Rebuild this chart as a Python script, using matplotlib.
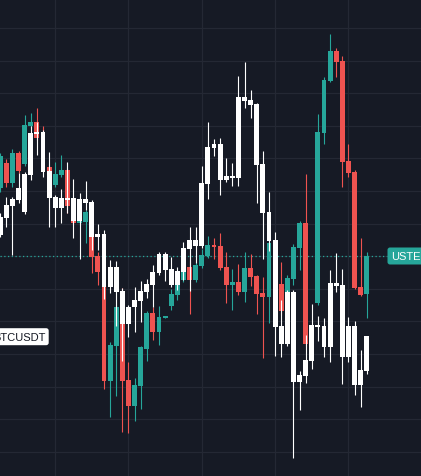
import numpy as np
import matplotlib
matplotlib.use("Agg")
import matplotlib.pyplot as plt
from matplotlib.patches import FancyBboxPatch
from matplotlib.transforms import IdentityTransform

# ---------------- data (chart units: 0 = top of price scale, values grow downward) -------------
ustec_open = [188, 163, 183, 153, 164, 126, 122, 136, 167, 185, 175, 170, 206, 223, 222, 214,
              256, 272, 381, 346, 300, 380, 406, 386, 349, 313, 332, 317, 306, 295, 280, 267,
              280, 266, 256, 245, 246, 267, 285, 282, 292, 268, 276, 293, 297, 245, 284, 292,
              279, 248, 223, 345, 303, 133, 81, 51, 61, 161, 172, 287, 294]
ustec_high = [153, 159, 149, 151, 115, 113, 108, 126, 165, 162, 155, 168, 204, 215, 210, 210,
              252, 270, 342, 305, 288, 362, 378, 346, 311, 307, 306, 316, 289, 283, 270, 260,
              262, 249, 236, 238, 233, 252, 269, 264, 252, 254, 275, 277, 240, 240, 262, 275,
              244, 221, 174, 325, 114, 77, 34, 48, 56, 144, 170, 238, 252]
ustec_low = [192, 187, 187, 173, 166, 128, 140, 170, 188, 187, 177, 213, 224, 225, 243, 273,
             285, 389, 417, 396, 432, 433, 421, 409, 361, 340, 345, 318, 310, 300, 282, 314,
             282, 268, 258, 259, 270, 303, 310, 295, 302, 286, 314, 358, 323, 290, 315, 300,
             285, 270, 346, 355, 305, 144, 82, 77, 187, 177, 289, 296, 318]
ustec_close = [156, 183, 153, 171, 125, 122, 138, 166, 185, 174, 170, 206, 223, 220, 212, 257,
               272, 381, 345, 307, 381, 406, 385, 347, 313, 332, 317, 316, 294, 285, 272, 280,
               265, 255, 245, 246, 268, 285, 282, 292, 268, 277, 294, 297, 243, 284, 311, 278,
               247, 223, 344, 326, 132, 80, 51, 62, 162, 173, 288, 295, 256]

btc_open = [235, 218, 206, 200, 212, 175, 133, 132, 171, 197, 208, 198, 198, 221, 199, 202,
            237, 234, 287, 267, 291, 324, 307, 301, 292, 285, 273, 254, 269, 285, 272, 249,
            240, 246, 184, 148, 144, 180, 176, 178, 97, 100, 104, 164, 212, 240, 326, 344,
            292, 382, 376, 361, 325, 326, 347, 283, 285, 357, 326, 385, 371]
btc_high = [213, 197, 197, 173, 172, 126, 122, 130, 152, 195, 189, 162, 179, 193, 181, 200,
            224, 230, 260, 261, 288, 305, 287, 281, 279, 265, 252, 252, 257, 267, 242, 227,
            227, 166, 122, 139, 138, 158, 163, 76, 62, 90, 103, 151, 192, 232, 300, 290,
            290, 371, 335, 304, 316, 318, 270, 253, 269, 317, 321, 350, 336]
btc_low = [237, 227, 255, 203, 214, 180, 155, 177, 227, 227, 223, 213, 238, 259, 210, 250,
           250, 299, 293, 326, 361, 337, 332, 322, 298, 307, 275, 281, 287, 290, 280, 291,
           263, 248, 199, 156, 195, 182, 186, 186, 108, 118, 203, 259, 251, 356, 357, 346,
           458, 410, 383, 369, 341, 357, 362, 292, 384, 362, 395, 407, 374]
btc_close = [217, 205, 199, 188, 174, 133, 132, 172, 198, 208, 198, 198, 221, 199, 203, 237,
             234, 287, 267, 292, 324, 307, 300, 291, 284, 272, 254, 270, 285, 271, 248, 240,
             246, 183, 147, 144, 180, 176, 176, 97, 101, 105, 165, 213, 241, 327, 344, 292,
             382, 375, 360, 325, 325, 347, 283, 286, 357, 326, 385, 370, 336]

ustec_label = "USTEC"
btc_label = "BTCUSDT"
ustec_last = ustec_close[-1]

# ---------------- style ----------------
W, H = 421, 476
BG = "#161a25"
GRID = "#242834"
TEAL = "#26a69a"
RED = "#ef5350"
WHITE = "#ffffff"
FONT = ["Liberation Sans", "DejaVu Sans"]

fig = plt.figure(figsize=(W / 100, H / 100), dpi=100)
fig.patch.set_facecolor(BG)
ax = fig.add_axes([0, 0, 1, 1])
ax.set_facecolor(BG)
for s in ax.spines.values():
    s.set_visible(False)
ax.set_xticks([])
ax.set_yticks([])

n = len(ustec_open)
x = np.arange(n)
ax.set_xlim(-0.03, 68.88)
ax.set_ylim(H, 0)

# grid
for xv in [9, 21, 33, 45, 57]:
    ax.axvline(xv, color=GRID, lw=0.9, zorder=0)
for yv in np.arange(28, H, 32.6):
    ax.axhline(yv, color=GRID, lw=0.9, zorder=0)


def candles(o, h, l, c, up_col, down_col, z):
    o, h, l, c = map(np.asarray, (o, h, l, c))
    up = c <= o
    cols = np.where(up, up_col, down_col)
    ax.vlines(x, h, l, colors=cols, lw=0.8, zorder=z)
    bottom = np.minimum(o, c)
    height = np.maximum(np.abs(c - o), 1.5)
    ax.bar(x, height, bottom=bottom, width=0.8, color=cols, lw=0, zorder=z + 0.1)


candles(ustec_open, ustec_high, ustec_low, ustec_close, TEAL, RED, 2)
candles(btc_open, btc_high, btc_low, btc_close, WHITE, WHITE, 3)

# last-price dotted line for USTEC
ax.axhline(ustec_last, xmin=0, xmax=387 / W, color=TEAL, lw=0.9,
           linestyle=(0, (1, 2)), zorder=1)

# USTEC price label (right edge)
yc = H - ustec_last
box = FancyBboxPatch((387.5, yc - 8.5), 45, 17,
                     boxstyle="round,pad=0,rounding_size=2.5",
                     transform=IdentityTransform(), facecolor=TEAL, edgecolor="none",
                     zorder=10)
fig.patches.append(box)
fig.text(391.5 / W, yc / H, ustec_label, color=WHITE, fontsize=8.0, family=FONT,
         ha="left", va="center_baseline", zorder=11)

# BTCUSDT label (left edge)
yb = H - 336.7
box2 = FancyBboxPatch((-6, yb - 8.5), 54.7, 17,
                      boxstyle="round,pad=0,rounding_size=2.5",
                      transform=IdentityTransform(), facecolor=WHITE, edgecolor="none",
                      zorder=10)
fig.patches.append(box2)
fig.text(45.5 / W, yb / H, btc_label, color="#131722", fontsize=8.0, family=FONT,
         ha="right", va="center_baseline", zorder=11)

fig.savefig("out.png", dpi=100, facecolor=BG)
